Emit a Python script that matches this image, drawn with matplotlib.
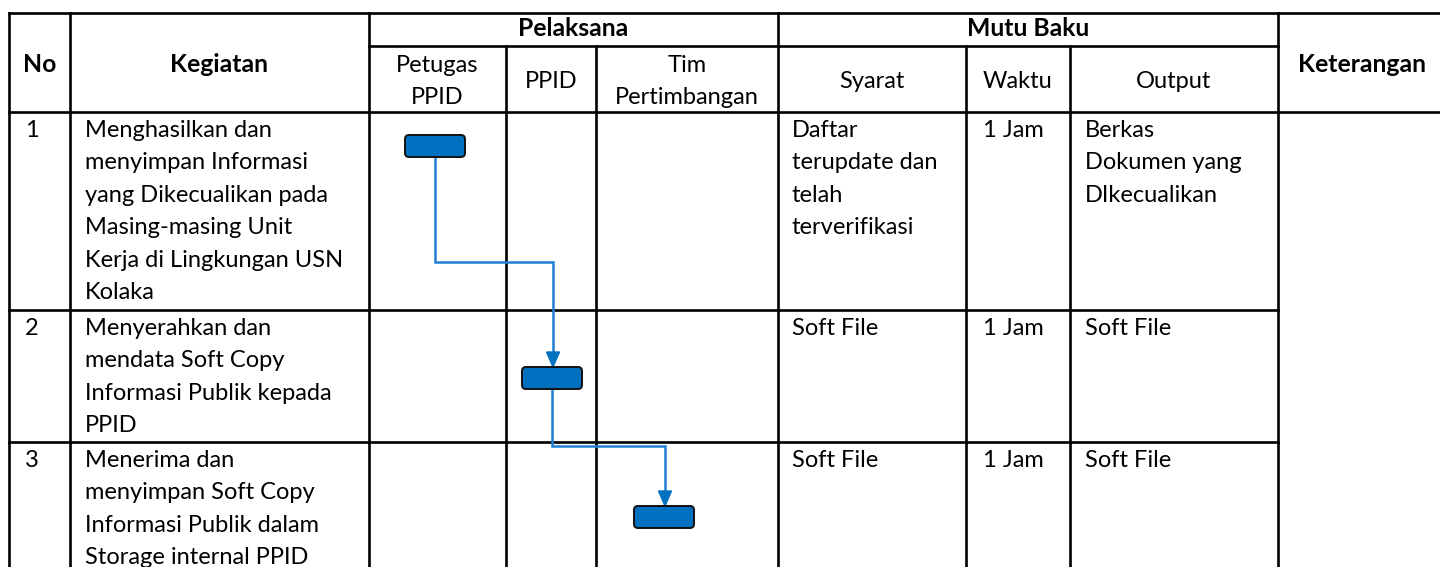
import matplotlib.pyplot as plt
from matplotlib.patches import FancyBboxPatch, Polygon

W, H = 1440, 567

# table grid (pixel layout)
col_edges = [9, 70, 369, 506, 596, 778, 966, 1070, 1278]
top_y, mid_y, head_y = 13, 46, 112
row_edges = [112, 310, 442, 600]

# header texts
group_heads = ["Pelaksana", "Mutu Baku"]
sub_heads = [["Petugas", "PPID"], ["PPID"], ["Tim", "Pertimbangan"],
             ["Syarat"], ["Waktu"], ["Output"]]

# body
nos = ["1", "2", "3"]
kegiatan = [
    ["Menghasilkan dan", "menyimpan Informasi", "yang Dikecualikan pada",
     "Masing-masing Unit", "Kerja di Lingkungan USN", "Kolaka"],
    ["Menyerahkan dan", "mendata Soft Copy", "Informasi Publik kepada", "PPID"],
    ["Menerima dan", "menyimpan Soft Copy", "Informasi Publik dalam",
     "Storage internal PPID"],
]
syarat = [["Daftar", "terupdate dan", "telah", "terverifikasi"], ["Soft File"], ["Soft File"]]
waktu = [["1 Jam"], ["1 Jam"], ["1 Jam"]]
output = [["Berkas", "Dokumen yang", "DIkecualikan"], ["Soft File"], ["Soft File"]]

# flow boxes: centre (x, y) of each step box
box_cx = [435, 552, 664]
box_cy = [146, 378, 517]
bend_y = [262, 446]

BOX_W, BOX_H = 60, 22
BLUE = "#0070C0"
LINE_BLUE = "#1f7fd2"
FONT = "Lato"
FS = 17
FS_B = 17.8
LSP = 32.4

fig = plt.figure(figsize=(W / 100, H / 100), dpi=100)
ax = fig.add_axes([0, 0, 1, 1])
ax.set_xlim(0, W)
ax.set_ylim(H, 0)
ax.axis("off")

lw = 1.9
kw = dict(color="black", lw=lw, solid_capstyle="projecting", zorder=2)
# horizontal lines
ax.plot([col_edges[0], W], [top_y, top_y], **kw)
ax.plot([col_edges[2], col_edges[-1]], [mid_y, mid_y], **kw)
ax.plot([col_edges[0], W], [head_y, head_y], **kw)
for y in row_edges[1:-1]:
    ax.plot([col_edges[0], col_edges[-1]], [y, y], **kw)
# vertical lines
for i, x in enumerate(col_edges):
    y0 = mid_y if i in (3, 4, 6, 7) else top_y
    ax.plot([x, x], [y0, H + 5], **kw)

tkw = dict(fontfamily=FONT, fontsize=FS, color="black")
bkw = dict(fontfamily=FONT, fontsize=FS_B, color="black", fontweight="bold")

# header
ax.text((col_edges[0] + col_edges[1]) / 2, 64, "No", ha="center", va="center", **bkw)
ax.text((col_edges[1] + col_edges[2]) / 2, 64, "Kegiatan", ha="center", va="center", **bkw)
ax.text((col_edges[2] + col_edges[5]) / 2, 29, group_heads[0], ha="center", va="center", **bkw)
ax.text((col_edges[5] + col_edges[8]) / 2, 29, group_heads[1], ha="center", va="center", **bkw)
ax.text((col_edges[8] + W + 6) / 2, 64, "Keterangan", ha="center", va="center", **bkw)
for i, lines in enumerate(sub_heads):
    cx = (col_edges[2 + i] + col_edges[3 + i]) / 2
    if len(lines) == 1:
        ax.text(cx, 81, lines[0], ha="center", va="center", **tkw)
    else:
        for k, s in enumerate(lines):
            ax.text(cx, 65 + k * 32, s, ha="center", va="center", **tkw)


def put_lines(x, y_top, lines):
    for k, s in enumerate(lines):
        ax.text(x, y_top + 25 + k * LSP, s, ha="left", va="baseline", **tkw)


for r in range(3):
    yt = row_edges[r]
    put_lines(col_edges[0] + 16, yt, [nos[r]])
    put_lines(col_edges[1] + 15, yt, kegiatan[r])
    put_lines(col_edges[5] + 14, yt, syarat[r])
    put_lines(col_edges[6] + 17, yt, waktu[r])
    put_lines(col_edges[7] + 15, yt, output[r])

# flow connectors
AH_L, AH_W = 15, 13
for i in range(len(box_cx) - 1):
    x0, y0 = box_cx[i], box_cy[i] + BOX_H / 2
    x1, y1 = box_cx[i + 1] + 1, box_cy[i + 1] - BOX_H / 2
    ax.plot([x0, x0, x1, x1], [y0, bend_y[i], bend_y[i], y1 - AH_L + 1],
            color=LINE_BLUE, lw=1.8, zorder=3, solid_joinstyle="miter")
    ax.add_patch(Polygon([[x1 - AH_W / 2, y1 - AH_L], [x1 + AH_W / 2, y1 - AH_L], [x1, y1]],
                         closed=True, color=BLUE, zorder=4))

for cx, cy in zip(box_cx, box_cy):
    ax.add_patch(FancyBboxPatch((cx - BOX_W / 2, cy - BOX_H / 2), BOX_W, BOX_H,
                                boxstyle="round,pad=0,rounding_size=4",
                                facecolor=BLUE, edgecolor="#111111", lw=1.4, zorder=5))

fig.savefig("out.png", dpi=100)
